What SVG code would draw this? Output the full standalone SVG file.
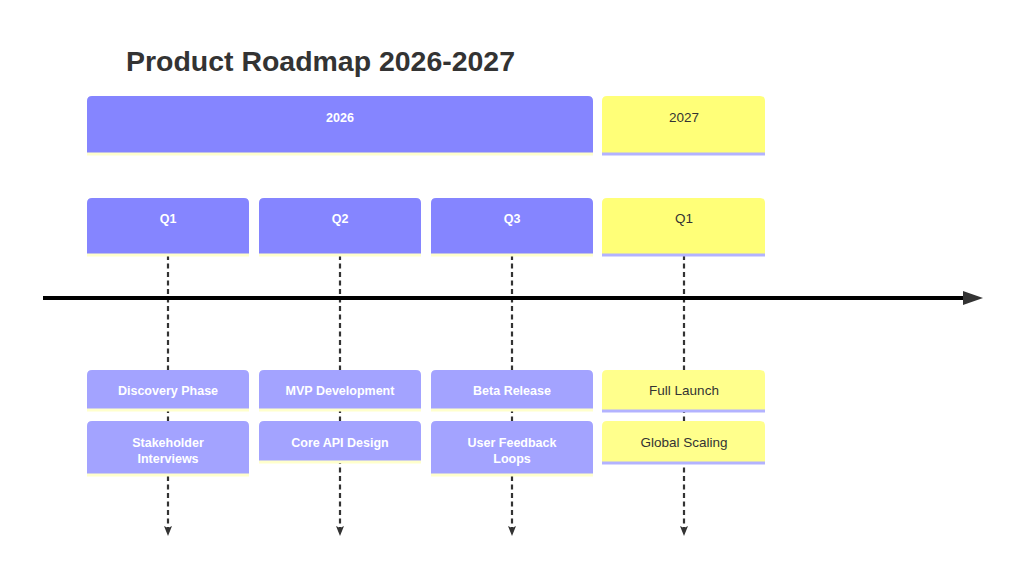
<svg xmlns="http://www.w3.org/2000/svg" width="1024" height="577" viewBox="0 0 1024 577">
<defs>
<style>
.title{font-family:"Liberation Sans",Arial,sans-serif;font-weight:bold;font-size:28px;fill:#333333}
.lbl{font-family:"Liberation Sans",Arial,sans-serif;font-size:12.5px;text-anchor:middle}
.w{fill:#ffffff;font-weight:bold}
.d{fill:#333333;font-size:13.5px}
.ph{fill:#8585ff}
.pe{fill:#a3a3ff}
.yh{fill:#ffff78}
.ye{fill:#ffff8c}
.pl{stroke:#ffffcc;stroke-width:3}
.yl{stroke:#b3b3ff;stroke-width:3}
.dash{stroke:#333333;stroke-width:2.2;stroke-dasharray:5 3.5;fill:none}
</style>
<marker id="dArrow" viewBox="0 0 10 8" refX="9" refY="4" markerWidth="10" markerHeight="8" markerUnits="userSpaceOnUse" orient="auto">
<path d="M0,0 L10,4 L0,8 L2,4 z" fill="#333333"/>
</marker>
</defs>
<rect width="1024" height="577" fill="#ffffff"/>
<text class="title" x="126" y="71" textLength="389" lengthAdjust="spacingAndGlyphs">Product Roadmap 2026-2027</text>

<g id="connectors">
<line class="dash" x1="168" y1="255" x2="168" y2="535" marker-end="url(#dArrow)"/>
<line class="dash" x1="340" y1="255" x2="340" y2="535" marker-end="url(#dArrow)"/>
<line class="dash" x1="512" y1="255" x2="512" y2="535" marker-end="url(#dArrow)"/>
<line class="dash" x1="684" y1="255" x2="684" y2="535" marker-end="url(#dArrow)"/>
<line x1="43" y1="298" x2="966" y2="298" stroke="#000000" stroke-width="4"/>
<polygon points="963,291 983,298 963,305" fill="#333333"/>
</g>

<g id="sec2026">
<path class="ph" d="M87,154 V101 Q87,96 92,96 H588 Q593,96 593,101 V154 Z"/>
<line class="pl" x1="87" y1="154" x2="593" y2="154"/>
<text class="lbl w" x="340" y="122">2026</text>
</g>
<g id="sec2027">
<path class="yh" d="M602,154 V101 Q602,96 607,96 H760 Q765,96 765,101 V154 Z"/>
<line class="yl" x1="602" y1="154" x2="765" y2="154"/>
<text class="lbl d" x="684" y="122">2027</text>
</g>

<g id="q1-2026">
<path class="ph" d="M87,255 V203 Q87,198 92,198 H244 Q249,198 249,203 V255 Z"/>
<line class="pl" x1="87" y1="255" x2="249" y2="255"/>
<text class="lbl w" x="168" y="223">Q1</text>
</g>
<g id="q2-2026">
<path class="ph" d="M259,255 V203 Q259,198 264,198 H416 Q421,198 421,203 V255 Z"/>
<line class="pl" x1="259" y1="255" x2="421" y2="255"/>
<text class="lbl w" x="340" y="223">Q2</text>
</g>
<g id="q3-2026">
<path class="ph" d="M431,255 V203 Q431,198 436,198 H588 Q593,198 593,203 V255 Z"/>
<line class="pl" x1="431" y1="255" x2="593" y2="255"/>
<text class="lbl w" x="512" y="223">Q3</text>
</g>
<g id="q1-2027">
<path class="yh" d="M602,255 V203 Q602,198 607,198 H760 Q765,198 765,203 V255 Z"/>
<line class="yl" x1="602" y1="255" x2="765" y2="255"/>
<text class="lbl d" x="684" y="223">Q1</text>
</g>

<g id="ev-discovery">
<path class="pe" d="M87,410 V375 Q87,370 92,370 H244 Q249,370 249,375 V410 Z"/>
<line class="pl" x1="87" y1="410" x2="249" y2="410"/>
<text class="lbl w" x="168" y="395">Discovery Phase</text>
</g>
<g id="ev-stakeholder">
<path class="pe" d="M87,475 V426 Q87,421 92,421 H244 Q249,421 249,426 V475 Z"/>
<line class="pl" x1="87" y1="475" x2="249" y2="475"/>
<text class="lbl w" x="168" y="447">Stakeholder</text>
<text class="lbl w" x="168" y="462.5">Interviews</text>
</g>
<g id="ev-mvp">
<path class="pe" d="M259,410 V375 Q259,370 264,370 H416 Q421,370 421,375 V410 Z"/>
<line class="pl" x1="259" y1="410" x2="421" y2="410"/>
<text class="lbl w" x="340" y="395">MVP Development</text>
</g>
<g id="ev-coreapi">
<path class="pe" d="M259,462 V426 Q259,421 264,421 H416 Q421,421 421,426 V462 Z"/>
<line class="pl" x1="259" y1="462" x2="421" y2="462"/>
<text class="lbl w" x="340" y="447">Core API Design</text>
</g>
<g id="ev-beta">
<path class="pe" d="M431,410 V375 Q431,370 436,370 H588 Q593,370 593,375 V410 Z"/>
<line class="pl" x1="431" y1="410" x2="593" y2="410"/>
<text class="lbl w" x="512" y="395">Beta Release</text>
</g>
<g id="ev-feedback">
<path class="pe" d="M431,475 V426 Q431,421 436,421 H588 Q593,421 593,426 V475 Z"/>
<line class="pl" x1="431" y1="475" x2="593" y2="475"/>
<text class="lbl w" x="512" y="447">User Feedback</text>
<text class="lbl w" x="512" y="462.5">Loops</text>
</g>
<g id="ev-launch">
<path class="ye" d="M602,411 V375 Q602,370 607,370 H760 Q765,370 765,375 V411 Z"/>
<line class="yl" x1="602" y1="411" x2="765" y2="411"/>
<text class="lbl d" x="684" y="395">Full Launch</text>
</g>
<g id="ev-scaling">
<path class="ye" d="M602,463 V426 Q602,421 607,421 H760 Q765,421 765,426 V463 Z"/>
<line class="yl" x1="602" y1="463" x2="765" y2="463"/>
<text class="lbl d" x="684" y="447">Global Scaling</text>
</g>
</svg>
